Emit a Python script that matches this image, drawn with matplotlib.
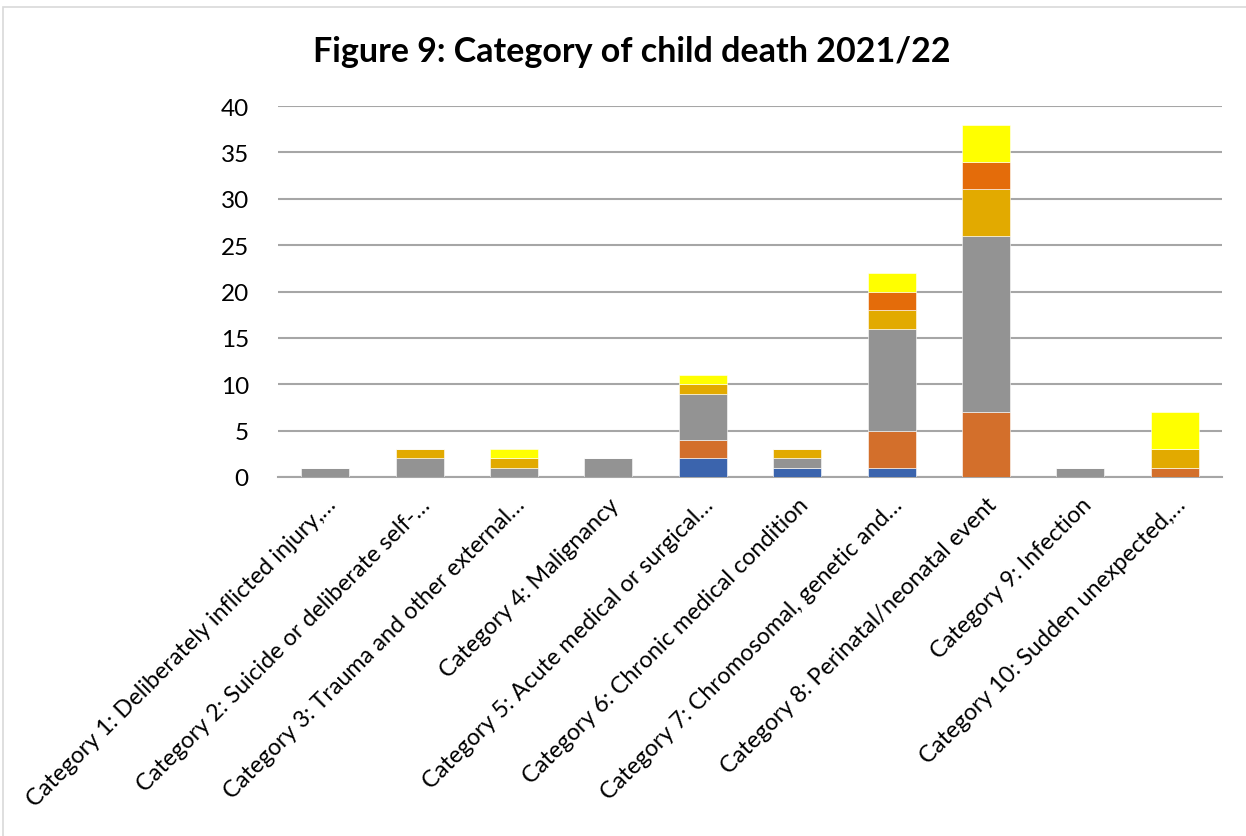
import numpy as np
import matplotlib
matplotlib.use("Agg")
import matplotlib.pyplot as plt
from matplotlib.patches import Rectangle

plt.rcParams["font.family"] = ["Lato", "DejaVu Sans"]

categories = [
    "Category 1: Deliberately inflicted injury,\u2026",
    "Category 2: Suicide or deliberate self-\u2026",
    "Category 3: Trauma and other external\u2026",
    "Category 4: Malignancy",
    "Category 5: Acute medical or surgical\u2026",
    "Category 6: Chronic medical condition",
    "Category 7: Chromosomal, genetic and\u2026",
    "Category 8: Perinatal/neonatal event",
    "Category 9: Infection",
    "Category 10: Sudden unexpected,\u2026",
]

# stacked series, bottom to top
series_1 = [0, 0, 0, 0, 2, 1, 1, 0, 0, 0]
series_2 = [0, 0, 0, 0, 2, 0, 4, 7, 0, 1]
series_3 = [1, 2, 1, 2, 5, 1, 11, 19, 1, 0]
series_4 = [0, 1, 1, 0, 1, 1, 2, 5, 0, 2]
series_5 = [0, 0, 0, 0, 0, 0, 2, 3, 0, 0]
series_6 = [0, 0, 1, 0, 1, 0, 2, 4, 0, 4]

yticks = [0, 5, 10, 15, 20, 25, 30, 35, 40]

stack = [series_1, series_2, series_3, series_4, series_5, series_6]
colors = ["#3B64AD", "#D36F2B", "#939393", "#E2AA00", "#E46C0A", "#FFFF00"]

fig = plt.figure(figsize=(12.46, 8.37), dpi=100)
ax = fig.add_axes([278 / 1246, 1 - 478 / 837, (1222 - 278) / 1246, (478 - 107) / 837])

x = np.arange(len(categories))
bottom = np.zeros(len(categories))
for vals, col in zip(stack, colors):
    vals = np.array(vals, dtype=float)
    ax.bar(x, vals, bottom=bottom, width=0.51, color=col,
           edgecolor="white", linewidth=0.4, zorder=3)
    bottom += vals

ax.set_xlim(-0.5, len(categories) - 0.5)
ax.set_ylim(0, 40)
ax.set_yticks(yticks)
ax.yaxis.grid(True, color="#A6A6A6", linewidth=1.5, zorder=0)
ax.set_axisbelow(True)
for side in ["top", "right", "left"]:
    ax.spines[side].set_visible(False)
ax.spines["bottom"].set_color("#A6A6A6")
ax.spines["bottom"].set_linewidth(1.5)
ax.tick_params(axis="both", length=0, labelsize=17.5, colors="black")
ax.tick_params(axis="y", pad=21)

ax.set_xticks(x)
ax.set_xticklabels(categories, rotation=45, ha="right", va="top",
                   rotation_mode="anchor", fontsize=16.8)
ax.tick_params(axis="x", pad=12)

fig.text(0.5074, 1 - 52 / 837, "Figure 9: Category of child death 2021/22",
         ha="center", va="center", fontsize=24.5, fontweight="bold")

# chart border
fig.patches.append(Rectangle((3 / 1246, -0.01), 1.0, 1 - 8 / 837 + 0.01,
                             transform=fig.transFigure, fill=False,
                             edgecolor="#D9D9D9", linewidth=1.2))

fig.savefig("out.png", dpi=100)
